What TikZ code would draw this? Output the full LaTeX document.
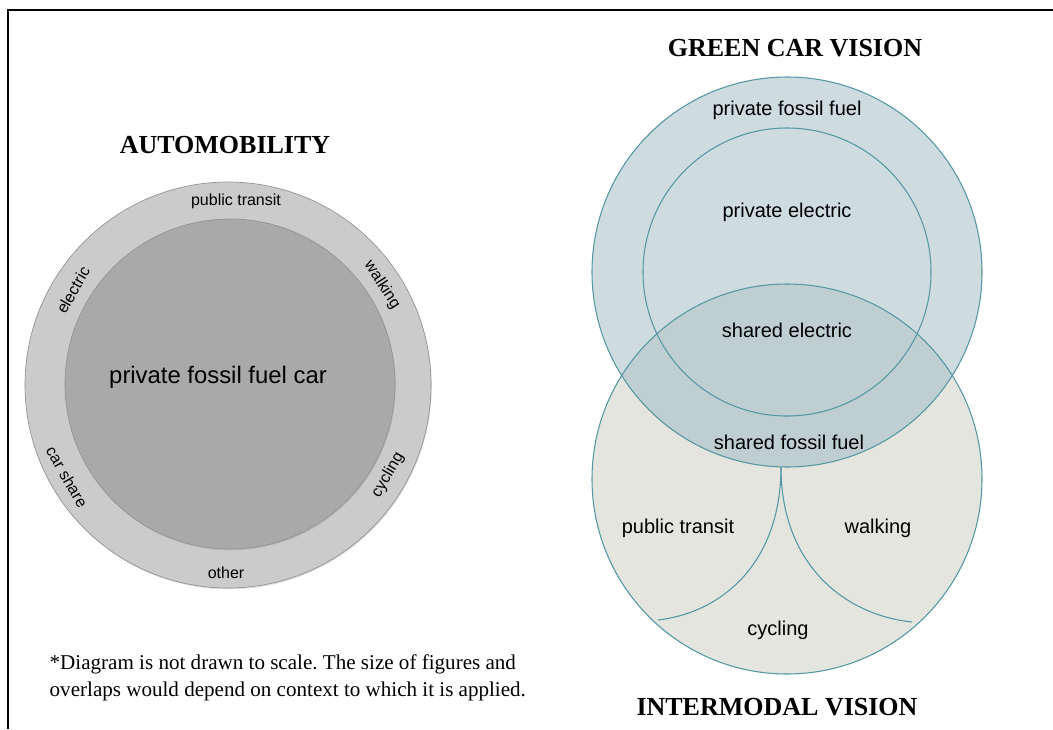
\documentclass[tikz,border=0pt]{standalone}
\usepackage{fontspec}
\setmainfont{Liberation Serif}
\setsansfont{Liberation Sans}
\usepackage{xcolor}
\usetikzlibrary{shadows}
\frenchspacing

\definecolor{ringgray}{HTML}{CBCBCB}
\definecolor{coregray}{HTML}{A9A9A9}
\definecolor{edgegray}{HTML}{929292}
\definecolor{greencar}{HTML}{CEDCDF}
\definecolor{overlap}{HTML}{BFCFD1}
\definecolor{intermodal}{HTML}{E4E5DF}
\definecolor{teal}{HTML}{5597A2}
\def\fs#1{\fontsize{#1}{#1}\selectfont}

\tikzset{
  head/.style={font=\bfseries\fs{19.5}},
  ring/.style={font=\sffamily\fs{12}},
  part/.style={font=\sffamily\fs{15}},
  rim/.style={teal, line width=0.8pt},
  soft/.style={drop shadow={shadow xshift=0.6pt, shadow yshift=-1pt, opacity=0.25}}
}

\begin{document}
\begin{tikzpicture}[x=0.75pt, y=-0.75pt]
\useasboundingbox (0,0) rectangle (1053,729);
\draw[line width=1.5pt] (8,729) -- (8,10) -- (1053,10);

% left: automobility
\node[head] (automob) at (225,145) {AUTOMOBILITY};
\filldraw[fill=ringgray, draw=edgegray, line width=0.5pt, soft] (228,385) circle (203);
\filldraw[fill=coregray, draw=edgegray, line width=0.5pt, soft] (230,384) circle (165);
\node[font=\sffamily\fs{17.9}] (privcar) at (218,377) {private fossil fuel car};
\node[ring] (ptransit) at (236,201) {public transit};
\node[ring, rotate=60] (elec) at (73,290) {electric};
\node[ring, rotate=-57] (walk) at (382,285) {walking};
\node[ring, rotate=-60] (carshare) at (67,477) {car share};
\node[ring, rotate=60] (cycle) at (388,475) {cycling};
\node[ring] (other) at (226,573) {other};

\node[anchor=west, align=left, font=\fontsize{15.8}{20.25}\selectfont] (note) at (45,677.5)
  {*Diagram is not drawn to scale. The size of figures and\\overlaps would depend on context to which it is applied.};

% right: green car and intermodal visions
\node[head] (green) at (795,48) {GREEN CAR VISION};
\node[head] (inter) at (777,707) {INTERMODAL VISION};
\fill[intermodal] (787,479) circle (195);
\fill[greencar] (787,272) circle (195);
\begin{scope}
  \clip (787,479) circle (195);
  \fill[overlap] (787,272) circle (195);
\end{scope}
\draw[rim] (787,479) circle (195);
\draw[rim] (787,272) circle (195);
\draw[rim] (787,272) circle (144);
\draw[rim] (781,467) .. controls (781,560) and (725,612) .. (658,620);
\draw[rim] (781,467) .. controls (781,565) and (845,615) .. (912,622);

\node[part] (privfossil) at (787,110) {private fossil fuel};
\node[part] (privelec) at (787,212) {private electric};
\node[part] (shelec) at (787,330) {shared electric};
\node[part] (shfossil) at (789,442) {shared fossil fuel};
\node[part] (ptransit2) at (678,528) {public transit};
\node[part] (walk2) at (878,528) {walking};
\node[part] (cycle2) at (778,630) {cycling};
\end{tikzpicture}
\end{document}
